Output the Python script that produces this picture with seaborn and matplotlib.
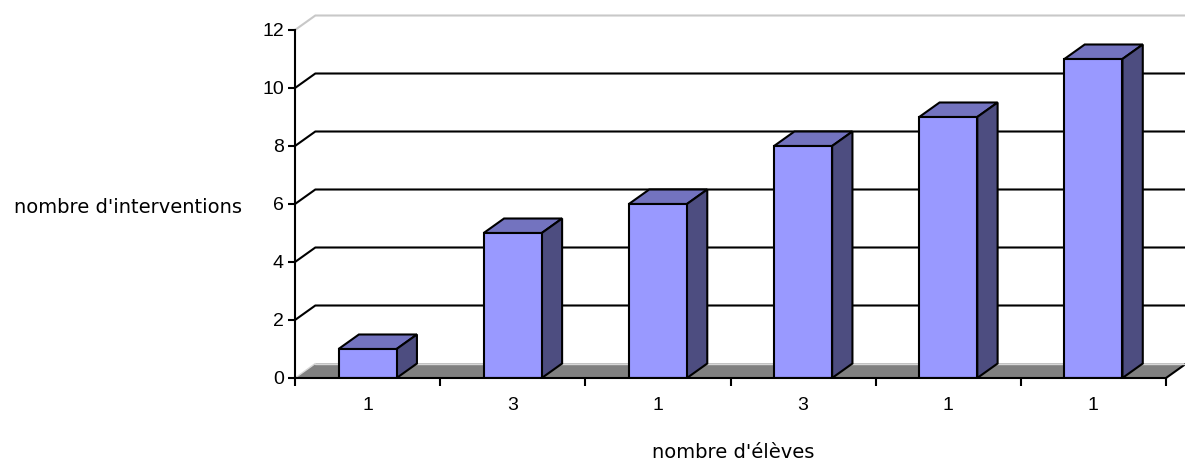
import matplotlib
matplotlib.use("Agg")
import matplotlib.pyplot as plt
from matplotlib.patches import Polygon
import seaborn as sns
import pandas as pd

# Data
groupes = ["g1", "g2", "g3", "g4", "g5", "g6"]
nb_eleves = ["1", "3", "1", "3", "1", "1"]
interventions = [1, 5, 6, 8, 9, 11]
y_ticks = [0, 2, 4, 6, 8, 10, 12]

df = pd.DataFrame({"groupe": groupes, "interventions": interventions})

sns.set_theme(style="white")
plt.rcParams["font.family"] = ["Liberation Sans", "DejaVu Sans"]
plt.rcParams["text.color"] = "black"
plt.rcParams["xtick.color"] = "black"
plt.rcParams["ytick.color"] = "black"
plt.rcParams["xtick.labelcolor"] = "black"
plt.rcParams["ytick.labelcolor"] = "black"

W, H = 1185, 463
fig = plt.figure(figsize=(W / 100, H / 100), dpi=100)
ax = fig.add_axes([295 / W, (H - 378) / H, (1166 - 295) / W, (378 - 30) / H])

front = "#9999FF"
top_c = "#7373BF"
side_c = "#4D4D80"
floor_c = "#808080"
dx, dy = 0.14, 0.5  # depth offset in data units
lw = 1.5

sns.barplot(data=df, x="groupe", y="interventions", width=0.4, color=front,
            saturation=1, edgecolor="black", linewidth=lw, ax=ax, zorder=5)

ax.set_xlim(-0.5, len(groupes) - 0.5)
ax.set_ylim(0, 12)
x0, x1 = ax.get_xlim()

bars = list(ax.patches)

# floor
ax.add_patch(Polygon([(x0, 0), (x1, 0), (x1 + dx, dy), (x0 + dx, dy)],
                     closed=True, facecolor=floor_c, edgecolor="none",
                     clip_on=False, zorder=1))
ax.plot([x1, x1 + dx], [0, dy], color="black", lw=lw, clip_on=False, zorder=2)
ax.plot([x0, x0 + dx], [0, dy], color="#d8d8d8", lw=1.0, clip_on=False, zorder=2)
ax.plot([x0 + dx, x1 + dx], [dy, dy], color="#d8d8d8", lw=1.0, clip_on=False, zorder=2)

# gridlines running back to the rear wall
for t in y_ticks[1:]:
    col = "#c8c8c8" if t == y_ticks[-1] else "black"
    ax.plot([x0, x0 + dx, x1 + dx], [t, t + dy, t + dy], color=col, lw=lw,
            clip_on=False, zorder=1)

# 3D faces of the bars
for p in bars:
    x, w, h = p.get_x(), p.get_width(), p.get_height()
    if h <= 0:
        continue
    top = Polygon([(x, h), (x + w, h), (x + w + dx, h + dy), (x + dx, h + dy)],
                  closed=True, facecolor=top_c, edgecolor="black", lw=lw,
                  clip_on=False, zorder=4)
    side = Polygon([(x + w, 0), (x + w + dx, dy), (x + w + dx, h + dy), (x + w, h)],
                   closed=True, facecolor=side_c, edgecolor="black", lw=lw,
                   clip_on=False, zorder=4)
    ax.add_patch(top)
    ax.add_patch(side)

for s in ["top", "right"]:
    ax.spines[s].set_visible(False)
for s in ["left", "bottom"]:
    ax.spines[s].set_color("black")
    ax.spines[s].set_linewidth(lw)
    ax.spines[s].set_zorder(6)

ax.set_yticks(y_ticks)
ax.set_yticklabels([str(t) for t in y_ticks], fontsize=14)
ax.tick_params(axis="y", left=True, length=5, width=lw, pad=3, color="black")

ax.set_xticks(range(len(groupes)))
ax.set_xticklabels(nb_eleves, fontsize=14)
ax.set_xticks([i - 0.5 for i in range(len(groupes) + 1)], minor=True)
ax.tick_params(axis="x", which="major", bottom=False, pad=8)
ax.tick_params(axis="x", which="minor", bottom=True, length=6, width=lw, color="black")

ax.set_xlabel("")
ax.set_ylabel("")
fig.text(128 / W, 1 - 207 / H, "nombre d'interventions", ha="center", va="center",
         fontsize=14, color="black", family=["DejaVu Sans"])
fig.text(733 / W, 1 - 453 / H, "nombre d'élèves", ha="center", va="center",
         fontsize=14, color="black", family=["DejaVu Sans"])

fig.savefig("out.png", dpi=100, facecolor="white")
